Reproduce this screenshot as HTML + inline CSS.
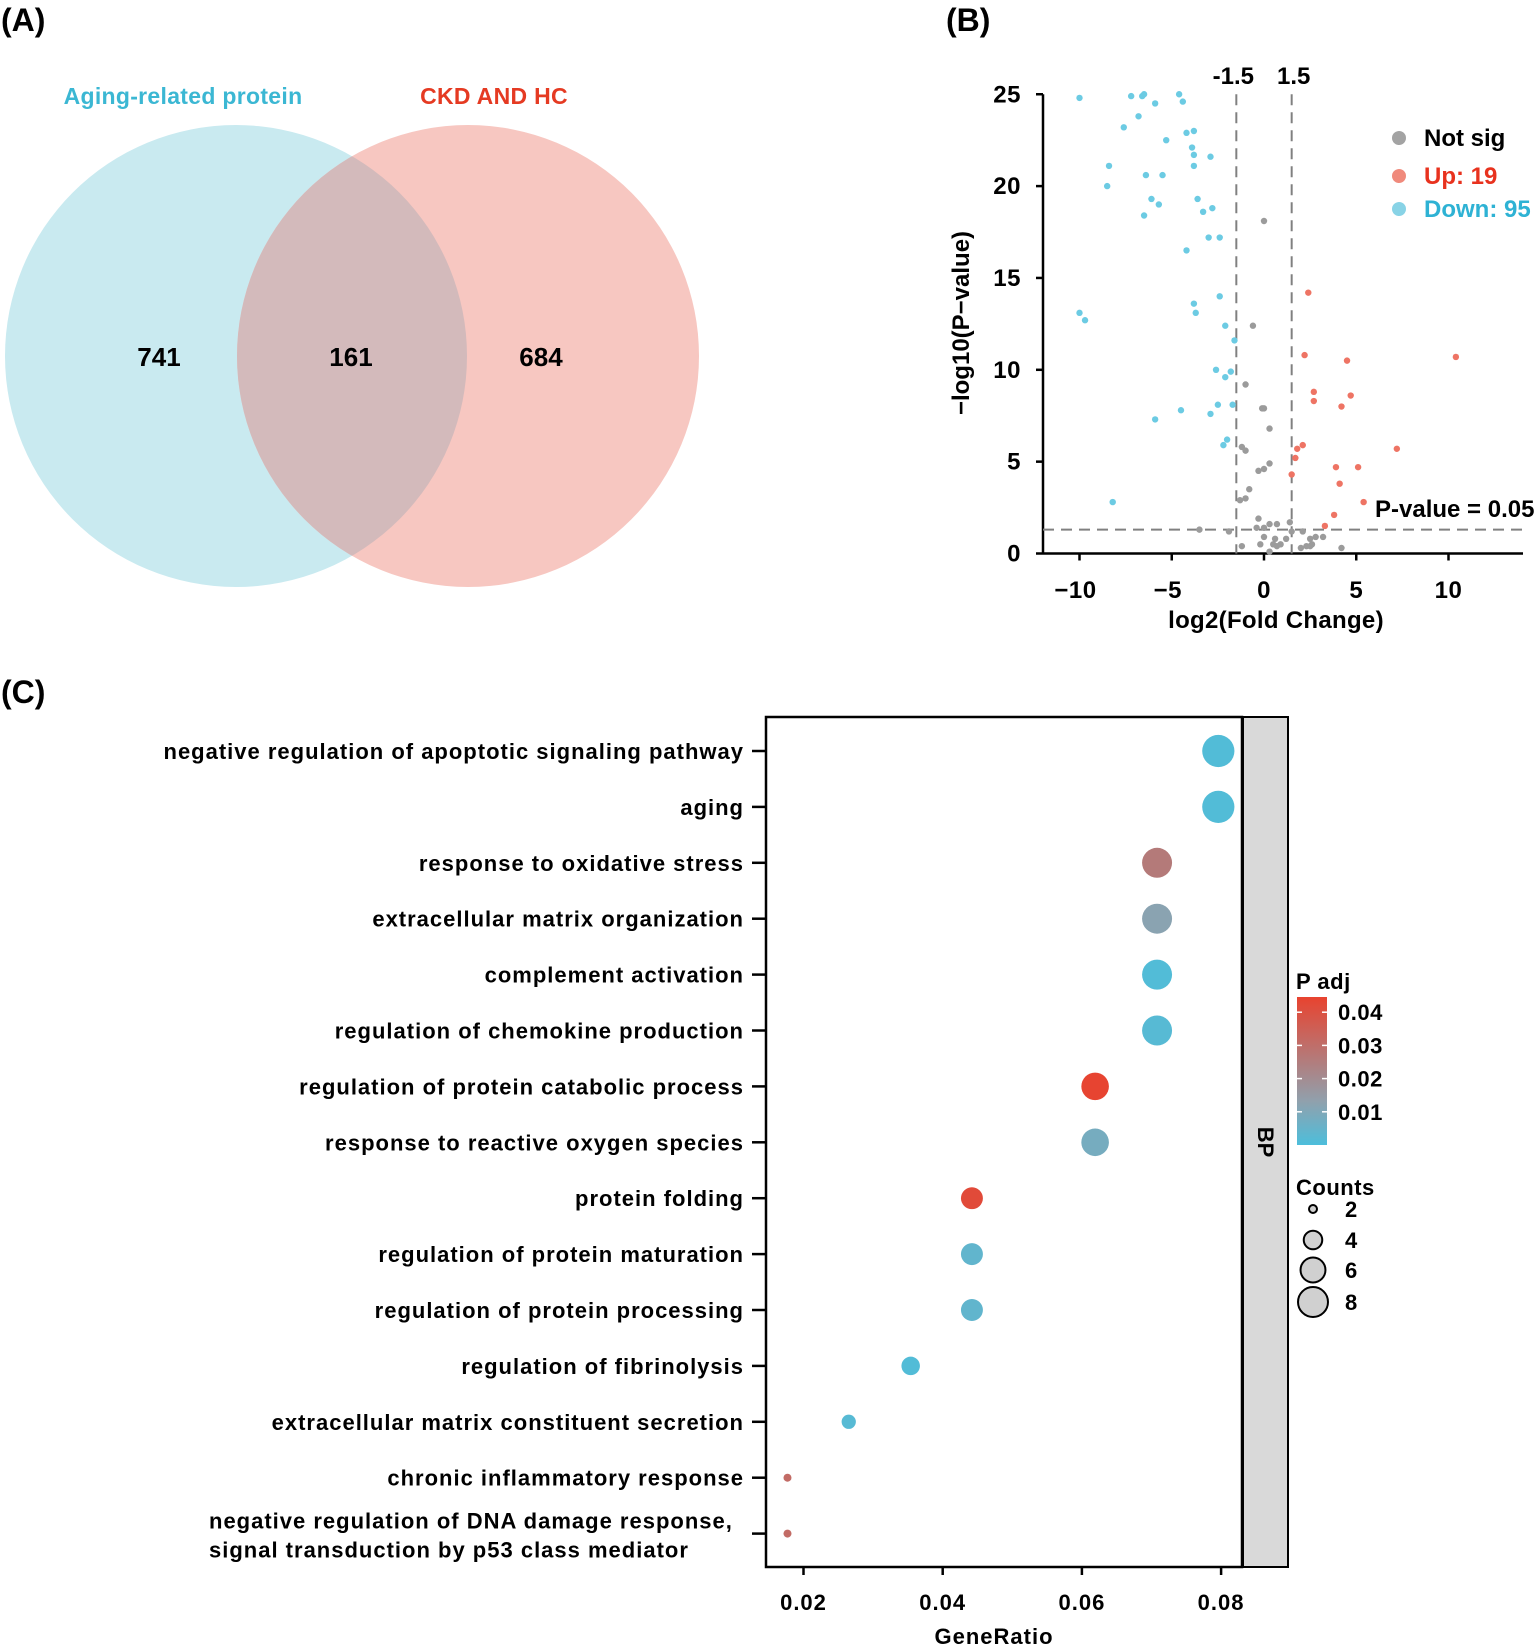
<!DOCTYPE html>
<html><head><meta charset="utf-8">
<style>
html,body{margin:0;padding:0;background:#fff;}
svg{display:block;font-family:"Liberation Sans",Arial,sans-serif;font-weight:bold;}
</style></head>
<body>
<svg id="fig" width="1535" height="1648" viewBox="0 0 1535 1648" xmlns="http://www.w3.org/2000/svg">
<rect width="1535" height="1648" fill="#fff"/>
<!-- Panel A -->
<g>
<text x="1" y="31" font-size="32">(A)</text>
<defs><clipPath id="clipL"><ellipse cx="236" cy="356" rx="231" ry="231"/></clipPath></defs>
<ellipse cx="236" cy="356" rx="231" ry="231" fill="#c9eaf0"/>
<ellipse cx="468" cy="356" rx="231" ry="231" fill="#f7c7c1"/>
<ellipse cx="468" cy="356" rx="231" ry="231" fill="#d3babb" clip-path="url(#clipL)"/>
<text x="183" y="104" font-size="23" letter-spacing="0.3" fill="#3bb7d3" text-anchor="middle">Aging-related protein</text>
<text x="494" y="104" font-size="23" letter-spacing="0.3" fill="#e53a22" text-anchor="middle">CKD AND HC</text>
<text x="159" y="366" font-size="26" text-anchor="middle">741</text>
<text x="351" y="366" font-size="26" text-anchor="middle">161</text>
<text x="541" y="366" font-size="26" text-anchor="middle">684</text>
</g>
<!-- Panel B -->
<g id="volcano">
<text x="946" y="31" font-size="32">(B)</text>
</g>
<!-- Panel C -->
<g id="dot">
<text x="1" y="703" font-size="32">(C)</text>
</g>
</svg>
<script>
const NS="http://www.w3.org/2000/svg";
function mk(tag,attrs,parent,text){const e=document.createElementNS(NS,tag);for(const k in attrs)e.setAttribute(k,attrs[k]);if(text!==undefined)e.textContent=text;parent.appendChild(e);return e;}

// ---------- Volcano data ----------
const downX=[-10,-7.2,-6.6,-6.5,-4.6,-4.4,-5.9,-6.8,-7.6,-4.2,-3.8,-5.3,-3.9,-3.8,-2.9,-8.4,-3.8,-6.4,-5.5,-8.5,-6.1,-5.7,-3.6,-2.8,-3.3,-6.5,-3.0,-2.4,-4.2,-2.4,-3.8,-3.7,-10,-9.7,-2.1,-1.6,-2.6,-1.8,-2.1,-2.5,-1.7,-4.5,-2.9,-5.9,-2.0,-2.2,-8.2];
const downY=[24.8,24.9,24.9,25,25,24.6,24.5,23.8,23.2,22.9,23,22.5,22.1,21.7,21.6,21.1,21.1,20.6,20.6,20,19.3,19,19.3,18.8,18.6,18.4,17.2,17.2,16.5,14,13.6,13.1,13.1,12.7,12.4,11.6,10,9.9,9.6,8.1,8.1,7.8,7.6,7.3,6.2,5.9,2.8];
const upX=[2.4,2.2,4.5,10.4,2.7,4.7,2.7,4.2,2.1,1.8,7.2,1.7,3.9,5.1,1.5,4.1,5.4,3.8,3.3];
const upY=[14.2,10.8,10.5,10.7,8.8,8.6,8.3,8,5.9,5.7,5.7,5.2,4.7,4.7,4.3,3.8,2.8,2.1,1.5];
const nsX=[0,-0.6,-1.0,0,-0.1,0.3,-1.2,-1.0,0.3,0,-0.3,-0.8,-1.3,-1.0,-0.3,0.3,0.7,1.4,-3.5,-1.9,-0.4,0,1.5,2.1,0.6,1.2,0.9,2.5,2.8,3.2,0,-0.2,0.5,2.3,2.5,-1.2,4.2,0.7,2.6,0.3,2.0];
const nsY=[18.1,12.4,9.2,7.9,7.9,6.8,5.8,5.6,4.9,4.6,4.5,3.5,2.9,3.0,1.9,1.6,1.6,1.7,1.3,1.2,1.4,1.4,1.2,1.2,0.8,0.8,0.5,0.8,0.9,0.9,0.9,0.5,0.5,0.4,0.4,0.4,0.3,0.4,0.5,0.1,0.3];
const xTicks=[-10,-5,0,5,10];
const yTicks=[0,5,10,15,20,25];
const fcCut=[-1.5,1.5];
const pCut=1.3;

const V=document.getElementById('volcano');
const vx=v=>1264+v*18.45;
const vy=v=>553.5-v*18.37;
mk('line',{x1:1043,y1:vy(0),x2:1523,y2:vy(0),stroke:'#000','stroke-width':2.5},V);
mk('line',{x1:1043,y1:vy(0)+1,x2:1043,y2:vy(25),stroke:'#000','stroke-width':2.5},V);
xTicks.forEach(t=>{
  const l=mk('line',{x1:vx(t),y1:vy(0),x2:vx(t),y2:vy(0)+7,stroke:'#000','stroke-width':2.5},V);
  
  
  const tx=mk('text',{x:vx(t)-(t<0?4:0),y:598,'font-size':24,'letter-spacing':0.5,'text-anchor':'middle'},V,t<0?'\u2212'+Math.abs(t):String(t));
  
  
});
yTicks.forEach(t=>{
  const l=mk('line',{x1:1036,y1:vy(t),x2:1043,y2:vy(t),stroke:'#000','stroke-width':2.5},V);
  
  
  const tx=mk('text',{x:1021,y:vy(t)+8,'font-size':24,'letter-spacing':0.5,'text-anchor':'end'},V,String(t));
  
  
});
fcCut.forEach(c=>{
  const l=mk('line',{x1:vx(c),y1:vy(25),x2:vx(c),y2:vy(0),stroke:'#808080','stroke-width':2,'stroke-dasharray':'11 7'},V);
  
  
  const tx=mk('text',{x:vx(c)+(c<0?-3:2),y:84,'font-size':24,'text-anchor':'middle'},V,String(c));
  
  
});
const hl=mk('line',{x1:1043,y1:vy(pCut),x2:1523,y2:vy(pCut),stroke:'#808080','stroke-width':2,'stroke-dasharray':'11 7'},V);


const pl=mk('text',{x:1375,y:517,'font-size':24},V,'P-value = 0.05');


function pts(xs,ys,col,name){xs.forEach((x,i)=>{const c=mk('circle',{cx:vx(x),cy:vy(ys[i]),r:3.2,fill:col},V);});}
pts(nsX,nsY,'#9b9b9b','point-not-sig');
pts(downX,downY,'#6ccbe3','point-down');
pts(upX,upY,'#ee7464','point-up');
const yt=mk('text',{x:0,y:0,'font-size':24,'text-anchor':'middle',transform:'translate(969,323) rotate(-90)'},V,'\u2212log10(P\u2212value)');


const xt=mk('text',{x:1276,y:628,'font-size':24,'letter-spacing':0.3,'text-anchor':'middle'},V,'log2(Fold Change)');


const legItems=[['Not sig','#a3a3a3','#000',138],['Up: 19','#f08a7c','#e8321e',176],['Down: 95','#88d3e6','#2eb2d4',209]];
legItems.forEach(it=>{
  const c=mk('circle',{cx:1399,cy:it[3],r:7,fill:it[1]},V);
  
  
  const t=mk('text',{x:1424,y:it[3]+8,'font-size':24,fill:it[2]},V,it[0]);
  
  
});

// ---------- Dot plot data ----------
const terms=["negative regulation of apoptotic signaling pathway","aging","response to oxidative stress","extracellular matrix organization","complement activation","regulation of chemokine production","regulation of protein catabolic process","response to reactive oxygen species","protein folding","regulation of protein maturation","regulation of protein processing","regulation of fibrinolysis","extracellular matrix constituent secretion","chronic inflammatory response","negative regulation of DNA damage response,|signal transduction by p53 class mediator"];
const geneRatio=[0.0796,0.0796,0.0708,0.0708,0.0708,0.0708,0.0619,0.0619,0.0442,0.0442,0.0442,0.0354,0.0265,0.0177,0.0177];
const counts=[9,9,8,8,8,8,7,7,5,5,5,4,3,2,2];
const padj=[0.001,0.001,0.026,0.012,0.001,0.002,0.044,0.008,0.042,0.004,0.004,0.001,0.002,0.031,0.031];
const ratioTicks=[0.02,0.04,0.06,0.08];
const padjTicks=[0.01,0.02,0.03,0.04];
const countTicks=[2,4,6,8];

const D=document.getElementById('dot');
const gx=v=>803.5+(v-0.02)*6960;
const gy=i=>751+i*55.9;
const rad=n=>Math.sqrt(16+34.8*(n-2));
function col(p){const t=Math.max(0,Math.min(1,p/0.0445));
  const a=[77,190,219],m=[145,160,172],b=[232,67,47],s=0.3;
  let r;if(t<s){const u=t/s;r=a.map((v,k)=>v+(m[k]-v)*u);}else{const u=(t-s)/(1-s);r=m.map((v,k)=>v+(b[k]-v)*u);}
  return 'rgb('+r.map(Math.round).join(',')+')';}
const box=mk('rect',{x:766,y:717,width:476,height:850,fill:'#fff',stroke:'#000','stroke-width':2.5},D);


const strip=mk('rect',{x:1243,y:717,width:45,height:850,fill:'#d9d9d9',stroke:'#000','stroke-width':2},D);


const bp=mk('text',{x:0,y:0,'font-size':22,'text-anchor':'middle',transform:'translate(1258,1142) rotate(90)'},D,'BP');


terms.forEach((t,i)=>{
  const tk=mk('line',{x1:752,y1:gy(i),x2:766,y2:gy(i),stroke:'#000','stroke-width':2.5},D);
  
  
  const parts=t.split('|');
  if(parts.length===1){
    const tx=mk('text',{x:744,y:gy(i)+8,'font-size':22,'letter-spacing':1,'text-anchor':'end'},D,t);
    
    
  }else{
    parts.forEach((p,k)=>{const tx=mk('text',{x:209,y:gy(i)-5+k*29,'font-size':22,'letter-spacing':1},D,p);
      
      });
  }
  const c=mk('circle',{cx:gx(geneRatio[i]),cy:gy(i),r:rad(counts[i]),fill:col(padj[i])},D);
  
  
});
ratioTicks.forEach(t=>{
  const l=mk('line',{x1:gx(t),y1:1567,x2:gx(t),y2:1575,stroke:'#000','stroke-width':2.5},D);
  
  
  const tx=mk('text',{x:gx(t),y:1610,'font-size':22,'letter-spacing':1,'text-anchor':'middle'},D,t.toFixed(2));
  
  
});
const gt=mk('text',{x:994,y:1644,'font-size':22,'letter-spacing':1,'text-anchor':'middle'},D,'GeneRatio');


// color legend
const defs=mk('defs',{},D);
const lg=mk('linearGradient',{id:'pg',x1:0,y1:1,x2:0,y2:0},defs);
[0,0.15,0.3,0.5,0.75,1].forEach(o=>mk('stop',{offset:o,'stop-color':col(o*0.0445)},lg));
const pt=mk('text',{x:1296,y:989,'font-size':22,'letter-spacing':0.5},D,'P adj');


const cb=mk('rect',{x:1297,y:997,width:30,height:148,fill:'url(#pg)'},D);


const cby=v=>1145-v*3320;
padjTicks.forEach(t=>{
  mk('line',{x1:1297,y1:cby(t),x2:1302,y2:cby(t),stroke:'#fff','stroke-width':1.5},D);
  mk('line',{x1:1322,y1:cby(t),x2:1327,y2:cby(t),stroke:'#fff','stroke-width':1.5},D);
  const tx=mk('text',{x:1338,y:cby(t)+8,'font-size':22,'letter-spacing':0.5},D,t.toFixed(2));
  
  
});
const ct=mk('text',{x:1296,y:1195,'font-size':22,'letter-spacing':0.5},D,'Counts');


const legY=[1209,1240,1270,1302];
countTicks.forEach((n,k)=>{
  const c=mk('circle',{cx:1313,cy:legY[k],r:rad(n),fill:'#d0d0d0',stroke:'#000','stroke-width':2},D);
  
  
  const tx=mk('text',{x:1345,y:legY[k]+8,'font-size':22},D,String(n));
  
  
});
</script>
</body></html>
